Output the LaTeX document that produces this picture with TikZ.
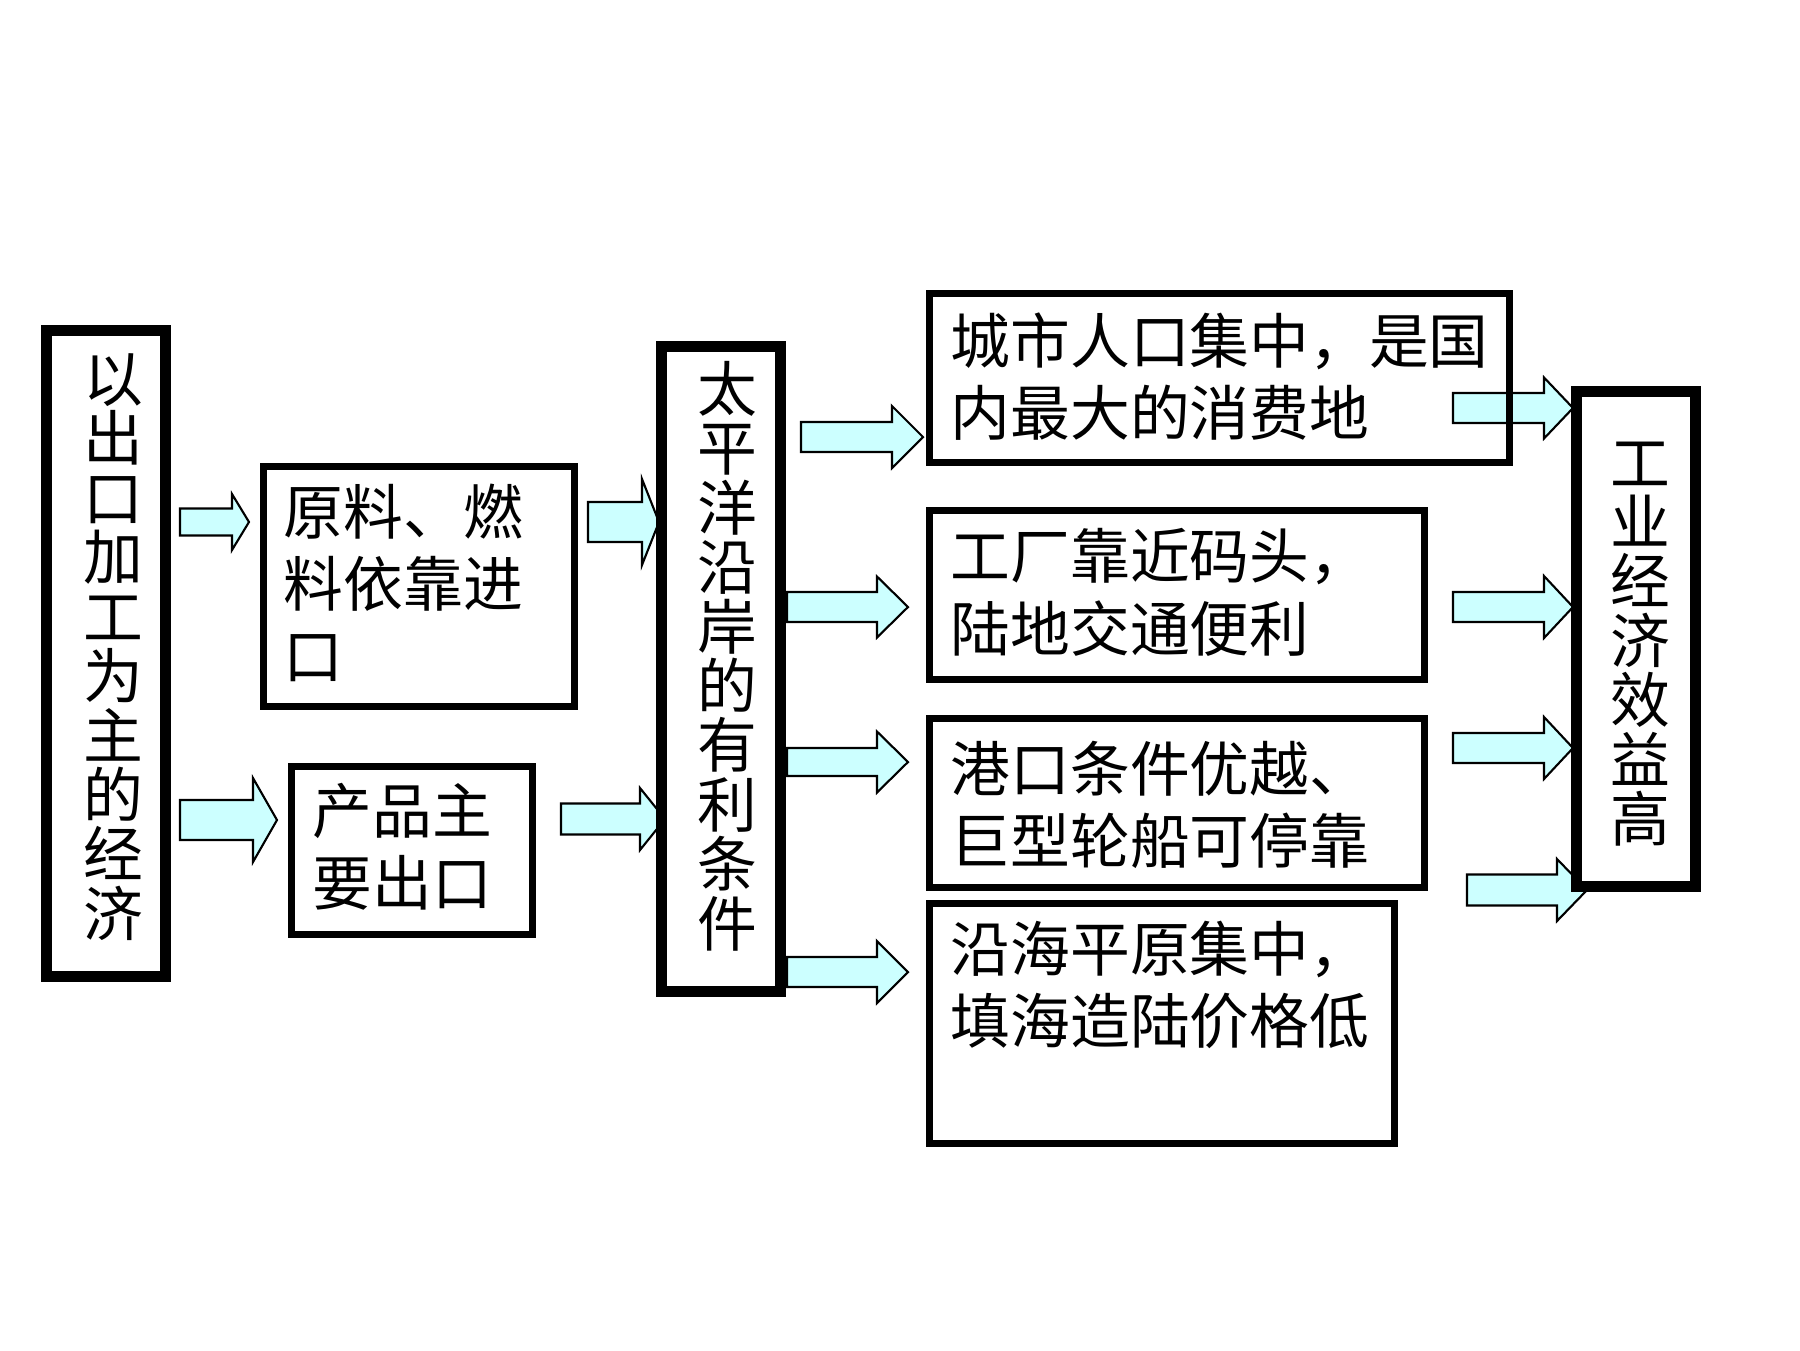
\documentclass[tikz,border=0pt]{standalone}
\usepackage{fontspec}
\newfontfamily\cjk{Noto Sans CJK SC}
\definecolor{arrowfill}{RGB}{204,255,255}
\newcommand\hfontcjk{\cjk\fontsize{17pt}{20.5pt}\selectfont\lineskiplimit -100pt\relax}
\newcommand\vfontcjk{\cjk\fontsize{17pt}{16.9pt}\selectfont\lineskiplimit -100pt\relax}
\tikzset{
  thickbox/.style={draw=black, line width=3.1pt, inner sep=0pt, outer sep=0pt},
  thinbox/.style={draw=black, line width=2pt, inner sep=0pt, outer sep=0pt},
  htext/.style={anchor=north west, inner sep=0pt, align=left, font=\hfontcjk},
  vtext/.style={inner sep=0pt, align=center, font=\vfontcjk},
  barrowstyle/.style={draw=black, line width=0.6pt, fill=arrowfill, line join=miter}
}
% block arrow: body x0..x1, tip x2, centre y, body half height, head half height
\newcommand\blockarrow[6]{%
  \draw[barrowstyle] (#1,#4-#5) -- (#2,#4-#5) -- (#2,#4-#6) -- (#3,#4)
    -- (#2,#4+#6) -- (#2,#4+#5) -- (#1,#4+#5) -- cycle;}
\begin{document}
\begin{tikzpicture}[x=0.01cm, y=-0.01cm]
\useasboundingbox (0,0) rectangle (1800,1350);
\fill[white] (0,0) rectangle (1800,1350);

% arrows (drawn first, boxes on top)
\blockarrow{180}{232}{249}{522}{13.5}{28}
\blockarrow{180}{253}{277}{820}{20}{42}
\blockarrow{588}{642}{659}{522}{20}{43}
\blockarrow{561}{640}{665}{819}{15.5}{31}
\blockarrow{801}{892}{923}{437}{15}{31}
\blockarrow{787}{877}{908}{607}{15}{30.5}
\blockarrow{787}{877}{908}{762}{14}{30.5}
\blockarrow{787}{877}{908}{972}{15}{31}
\blockarrow{1453}{1544}{1573}{408}{15}{30.5}
\blockarrow{1453}{1544}{1573}{607}{15}{31}
\blockarrow{1453}{1544}{1573}{748}{15}{31}
\blockarrow{1467}{1557}{1587}{890}{15.5}{31}

% boxes
\node[thickbox, minimum width=1.19cm, minimum height=6.46cm] (b1) at (106,653.5) {};
\node[thinbox, minimum width=3.11cm, minimum height=2.40cm] (b2) at (419,586.5) {};
\node[thinbox, minimum width=2.41cm, minimum height=1.68cm] (b3) at (412,850.5) {};
\node[thickbox, minimum width=1.19cm, minimum height=6.45cm] (b4) at (721,669) {};
\node[thinbox, minimum width=5.80cm, minimum height=1.69cm] (b5) at (1219.5,378) {};
\node[thinbox, minimum width=4.95cm, minimum height=1.69cm] (b6) at (1177,595) {};
\node[thinbox, minimum width=4.95cm, minimum height=1.69cm] (b7) at (1177,803) {};
\node[thinbox, minimum width=4.65cm, minimum height=2.40cm] (b8) at (1162,1023.5) {};
\node[thickbox, minimum width=1.19cm, minimum height=4.95cm] (b9) at (1636,639) {};

% texts
\node[vtext] (t1) at (113,647) {以\\出\\口\\加\\工\\为\\主\\的\\经\\济};
\node[htext] (t2) at (283,483) {原料、燃\\料依靠进\\口};
\node[htext] (t3) at (312,782) {产品主\\要出口};
\node[vtext] (t4) at (727,656) {太\\平\\洋\\沿\\岸\\的\\有\\利\\条\\件};
\node[htext] (t5) at (950,312) {城市人口集中，是国\\内最大的消费地};
\node[htext] (t6) at (950,528) {工厂靠近码头，\\陆地交通便利};
\node[htext] (t7) at (950,740) {港口条件优越、\\巨型轮船可停靠};
\node[htext] (t8) at (950,920) {沿海平原集中，\\填海造陆价格低};
\node[vtext] (t9) at (1640,644) {工\\业\\经\\济\\效\\益\\高};
\end{tikzpicture}
\end{document}
